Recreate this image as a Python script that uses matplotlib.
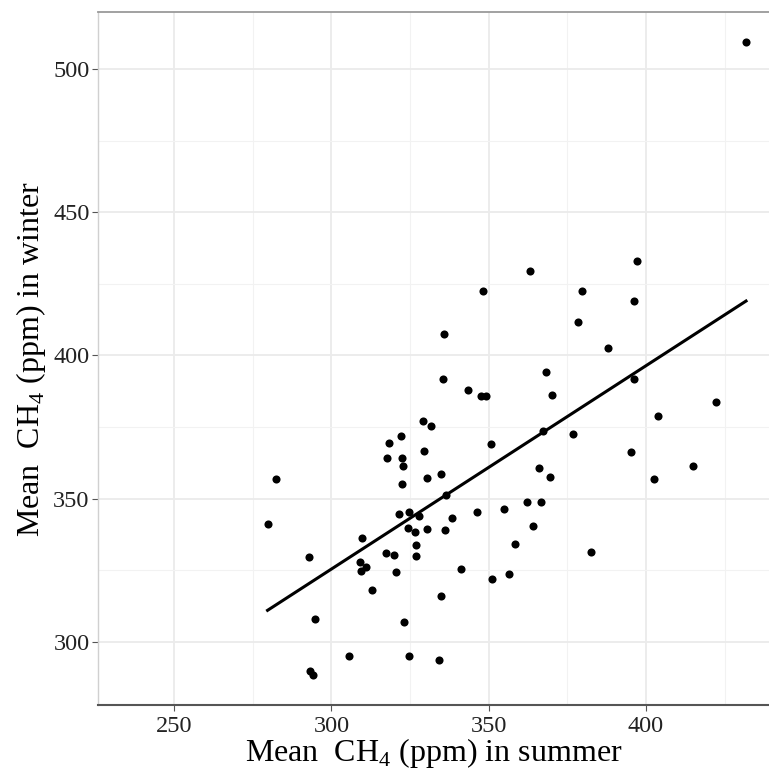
"""
summer vs winter mean CH4 scatter with linear fit.
"""
import numpy as np
import matplotlib

matplotlib.use("Agg")
import matplotlib.pyplot as plt
from matplotlib.ticker import MultipleLocator

plt.rcParams["font.family"] = ["Liberation Serif", "DejaVu Serif"]
plt.rcParams["mathtext.fontset"] = "custom"
plt.rcParams["mathtext.rm"] = "Liberation Serif"

# mean CH4 (ppm) per site
summer = [
    431.8, 279.7, 282.3, 335.8, 335.6, 329.0, 331.5, 322.2, 318.4, 329.5,
    317.7, 322.5, 322.9, 330.4, 334.9, 322.5, 321.5, 324.8, 327.8, 324.5,
    326.5, 330.5, 336.0, 336.5, 309.7, 326.9, 326.9, 292.8, 317.5, 320.0,
    309.1, 311.0, 309.3, 320.5, 313.0, 334.9, 294.8, 323.0, 305.6, 324.7,
    334.2, 293.2, 294.3, 397.0, 363.0, 348.2, 379.8, 396.3, 378.5, 387.9,
    368.2, 396.1, 343.5, 347.5, 349.1, 370.1, 422.3, 403.9, 367.4, 376.7,
    350.6, 395.1, 414.9, 366.1, 369.4, 402.4, 346.2, 354.9, 362.2, 366.7,
    338.2, 364.2, 358.4, 382.6, 341.1, 351.2, 356.3,
]
winter = [
    509.4, 341.3, 357.0, 407.4, 391.9, 377.2, 375.5, 371.9, 369.6, 366.7,
    364.1, 364.3, 361.4, 357.1, 358.5, 355.0, 344.6, 345.5, 343.9, 339.7,
    338.5, 339.6, 339.0, 351.3, 336.3, 333.9, 330.0, 329.5, 331.0, 330.5,
    327.9, 326.2, 324.8, 324.5, 318.2, 315.9, 307.9, 306.9, 295.0, 295.2,
    293.7, 289.9, 288.6, 433.0, 429.4, 422.6, 422.5, 419.1, 411.7, 402.5,
    394.1, 391.7, 388.0, 385.9, 385.9, 386.3, 383.7, 378.9, 373.8, 372.6,
    369.1, 366.2, 361.5, 360.6, 357.5, 356.8, 345.5, 346.4, 348.8, 348.8,
    343.2, 340.4, 334.1, 331.4, 325.4, 322.0, 323.7,
]

x = np.array(summer)
y = np.array(winter)
slope, intercept = np.polyfit(x, y, 1)
xfit = np.array([x.min(), x.max()])

fig = plt.figure(figsize=(7.69, 7.71), dpi=100)
ax = fig.add_axes([98 / 769, 1 - 705 / 771, 1 - 98 / 769, (705 - 12) / 771])

ax.set_xlim(225.8, 439.1)
ax.set_ylim(278.0, 519.9)

ax.xaxis.set_major_locator(MultipleLocator(50))
ax.xaxis.set_minor_locator(MultipleLocator(25))
ax.yaxis.set_major_locator(MultipleLocator(50))
ax.yaxis.set_minor_locator(MultipleLocator(25))

ax.grid(which="major", color="#ebebeb", lw=1.3)
ax.grid(which="minor", color="#f2f2f2", lw=0.8)
ax.set_axisbelow(True)

ax.scatter(x, y, s=34, color="black", zorder=3, linewidths=0)
ax.plot(xfit, intercept + slope * xfit, color="black", lw=2.2, zorder=4)

ax.spines["right"].set_visible(False)
ax.spines["top"].set_color("#9a9a9a")
ax.spines["top"].set_linewidth(1.3)
ax.spines["left"].set_color("#d0d0d0")
ax.spines["left"].set_linewidth(1.0)
ax.spines["bottom"].set_color("#555555")
ax.spines["bottom"].set_linewidth(1.5)

ax.tick_params(which="major", length=4, width=0.8, color="#555555",
               labelsize=17.5, pad=2, labelcolor="#222222")
ax.tick_params(axis="x", pad=4)
ax.tick_params(which="minor", length=0)

ax.set_xlabel("Mean  CH$_\\mathregular{4}$ (ppm) in summer", fontsize=23, labelpad=-1)
ax.set_ylabel("Mean  CH$_\\mathregular{4}$ (ppm) in winter", fontsize=23, labelpad=4)

fig.savefig("out.png", dpi=100)
